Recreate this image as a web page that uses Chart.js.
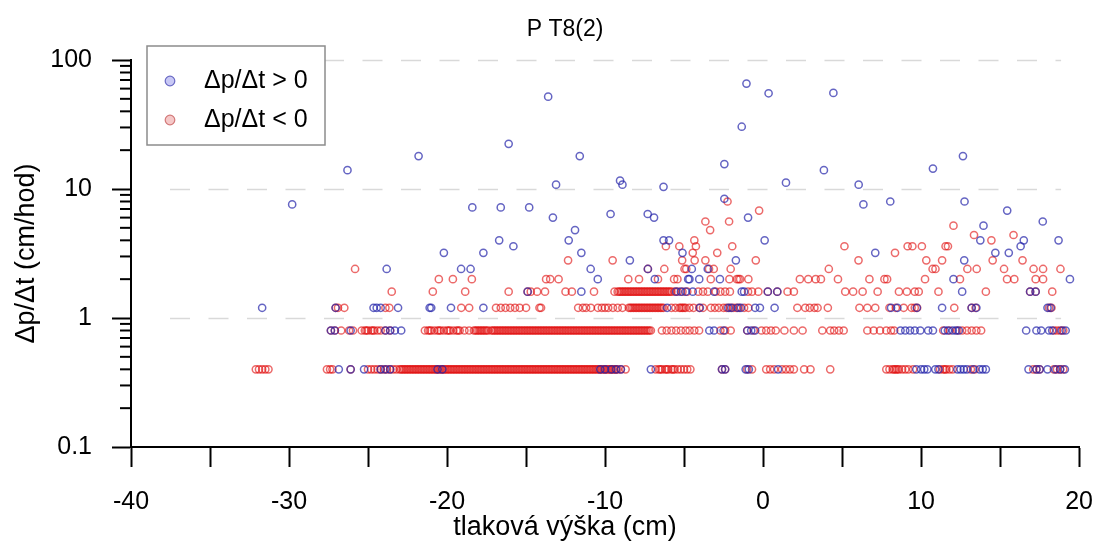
<!DOCTYPE html>
<html>
<head>
<meta charset="utf-8">
<script src="https://cdn.jsdelivr.net/npm/chart.js@4.4.0/dist/chart.umd.min.js"></script>
<style>
  html, body { margin: 0; background: #fff; }
  #c { display: block; }
</style>
</head>
<body>
<canvas id="c" width="1113" height="545"></canvas>
<script>
// ——— data: rate levels (cm/hod) and pressure heads (cm) ———
const rowRates = [0.4, 0.8, 1.2, 1.6, 2.0, 2.4, 2.8];
const rateTicks = [0.1, 1, 10, 100];

// Δp/Δt > 0, one array of heads per rate level
const up04 = [-26.85, -26.1, -25.25, -24.2, -23.9, -23.6, -20.6, -20.3,
  -10.3, -10.0, -9.6, -9.3, -9.0, -7.1, -2.6, -2.4, -1.1, -0.9, 0.95,
  9.7, 10.0, 10.2, 10.4, 10.9, 11.1, 12.3, 12.5, 12.7, 12.9, 13.3, 13.7, 13.9, 14.1,
  16.8, 17.3, 17.5, 18.0, 18.5, 18.8, 19.1];
const up08 = [-27.35, -27.1, -26.1, -23.9, -23.6, -23.3, -22.9, -3.4, -3.1, -2.5,
  -1.0, -0.75, -0.5, 8.7, 9.0, 9.3, 9.6, 9.95, 10.45, 10.75, 11.5, 11.7, 12.0, 12.2, 12.4,
  16.65, 17.3, 17.6, 18.1, 18.3, 18.9, 19.15];
const up12 = [-31.7, -27.05, -24.65, -24.45, -24.2, -23.1, -21.1, -21.0, -19.75, -17.7,
  -6.07, -4.0, -2.2, -2.0, -1.6, -1.4, -0.5, -0.2, 0.73, 8.1, 8.5, 9.73, 11.33,
  13.2, 13.5, 18.0, 18.2];
const up16 = [-14.9, -11.5, -5.5, -5.2, -4.9, -4.45, -3.1, -1.35, -1.2, 0.3, 0.9,
  12.6, 16.9, 17.25];
const up20 = [-10.46, -6.85, -4.74, -4.66, -4.04, -2.73, 12.05, 19.42];
const up24 = [-23.82, -19.11, -18.51, -10.91, -7.29, -4.51, -3.5];
const up28 = [-8.43, -1.72, 12.73];
const upPeaks = [
  [-29.8, 7.6], [-26.3, 14], [-21.8, 18], [-20.2, 3.2], [-18.4, 7.2], [-17.7, 3.2],
  [-16.7, 4.0], [-16.6, 7.2], [-16.1, 22.4], [-15.8, 3.6], [-14.8, 7.2], [-13.6, 52],
  [-13.3, 6.0], [-13.1, 10.8], [-12.3, 4.0], [-11.9, 4.8], [-11.6, 18], [-11.5, 3.2],
  [-9.65, 6.4], [-9.05, 11.6], [-8.9, 10.8], [-7.3, 6.4], [-6.9, 6.0], [-6.3, 10.4],
  [-6.3, 4.0], [-5.95, 4.0], [-5.1, 3.2], [-2.45, 15.6], [-2.45, 8.4], [-1.35, 30.4],
  [-1.05, 65.6], [-0.95, 6.0], [0.1, 4.0], [0.35, 55.2], [1.45, 11.2], [3.85, 14],
  [4.45, 55.6], [6.05, 10.8], [6.35, 7.6], [7.1, 3.2], [8.05, 8.0], [10.75, 14.4],
  [12.65, 18], [12.75, 8.0], [13.75, 4.0], [13.95, 5.2], [14.7, 3.2], [15.45, 6.8],
  [15.55, 3.2], [16.3, 3.6], [16.5, 4.0], [17.7, 5.6], [18.7, 4.0]
];

// Δp/Δt < 0
const down04 = [-32.1, -31.9, -31.7, -31.5, -31.3, -27.6, -27.4, -27.25, -26.1,
  -25.0, -24.8, -24.6, -24.4, -24.2, -24.0, -23.8, -23.6, -23.4, -23.2,
  -23.0, -22.9, -22.8, -22.7, -22.6, -22.5, -22.4, -22.3, -22.2, -22.1,
  -22.0, -21.9, -21.8, -21.7, -21.6, -21.5, -21.4, -21.3, -21.2, -21.1,
  -21.0, -20.9, -20.8, -20.7, -20.6, -20.5, -20.4, -20.3, -20.2, -20.1,
  -20.0, -19.9, -19.8, -19.7, -19.6, -19.5, -19.4, -19.3, -19.2, -19.1,
  -19.0, -18.9, -18.8, -18.7, -18.6, -18.5, -18.4, -18.3, -18.2, -18.1,
  -18.0, -17.9, -17.8, -17.7, -17.6, -17.5, -17.4, -17.3, -17.2, -17.1,
  -17.0, -16.9, -16.8, -16.7, -16.6, -16.5, -16.4, -16.3, -16.2, -16.1,
  -16.0, -15.9, -15.8, -15.7, -15.6, -15.5, -15.4, -15.3, -15.2, -15.1,
  -15.0, -14.9, -14.8, -14.7, -14.6, -14.5, -14.4, -14.3, -14.2, -14.1,
  -14.0, -13.9, -13.8, -13.7, -13.6, -13.5, -13.4, -13.3, -13.2, -13.1,
  -13.0, -12.9, -12.8, -12.7, -12.6, -12.5, -12.4, -12.3, -12.2, -12.1,
  -12.0, -11.9, -11.8, -11.7, -11.6, -11.5, -11.4, -11.3, -11.2, -11.1,
  -11.0, -10.9, -10.8, -10.7, -10.6, -10.5, -10.4, -10.3, -10.2, -10.1,
  -10.0, -9.9, -9.8, -9.7, -9.6, -9.5, -9.4, -9.3, -9.2, -9.0, -8.7,
  -6.8, -6.6, -6.5, -6.4, -6.2, -6.1, -6.0, -5.8, -5.7, -5.6, -5.4, -5.2, -5.0, -4.8, -4.6,
  -2.6, -2.4, -1.0, -0.7, 0.2, 0.45, 0.7, 1.2, 1.45, 1.7, 1.95, 2.6, 3.0, 4.25,
  7.8, 8.0, 8.2, 8.3, 8.4, 8.5, 8.6, 8.8, 9.0, 9.2, 9.5, 11.2, 11.4, 11.5, 11.6, 11.8, 12.0,
  13.15, 13.4, 17.1, 17.3, 17.5, 18.4, 18.6, 18.8, 19.0];
const down08 = [-27.35, -27.1, -26.7, -26.2, -25.95, -25.4, -25.2, -25.1, -25.0, -24.8,
  -24.7, -24.6, -24.4, -24.2, -23.9, -23.6, -21.4, -21.2, -21.1, -21.0, -20.8, -20.6,
  -20.5, -20.4, -20.2, -20.0, -19.9, -19.8, -19.6, -19.4, -19.3, -19.2, -18.9, -18.6,
  -18.3, -18.2, -18.1, -18.0, -17.9, -17.8, -17.7, -17.6, -17.5, -17.4,
  -17.2, -17.1, -17.0, -16.9, -16.8, -16.7, -16.6, -16.5, -16.4, -16.3,
  -16.2, -16.1, -16.0, -15.9, -15.8, -15.7, -15.6, -15.5, -15.4, -15.3,
  -15.2, -15.1, -15.0, -14.9, -14.8, -14.7, -14.6, -14.5, -14.4, -14.3,
  -14.2, -14.1, -14.0, -13.9, -13.8, -13.7, -13.6, -13.5, -13.4, -13.3,
  -13.2, -13.1, -13.0, -12.9, -12.8, -12.7, -12.6, -12.5, -12.4, -12.3,
  -12.2, -12.1, -12.0, -11.9, -11.8, -11.7, -11.6, -11.5, -11.4, -11.3,
  -11.2, -11.1, -11.0, -10.9, -10.8, -10.7, -10.6, -10.5, -10.4, -10.3,
  -10.2, -10.1, -10.0, -9.9, -9.8, -9.7, -9.6, -9.5, -9.4, -9.3,
  -9.2, -9.1, -9.0, -8.9, -8.8, -8.7, -8.6, -8.5, -8.4, -8.3,
  -8.2, -8.1, -8.0, -7.9, -7.8, -7.7, -7.6, -7.5, -7.4, -7.3, -7.2, -7.1,
  -6.4, -6.1, -5.8, -5.5, -5.2, -4.9, -4.65, -4.35, -4.05, -2.7, -2.4, -2.05,
  -1.0, -0.6, -0.1, 0.2, 0.5, 0.8, 1.35, 1.95, 2.5, 3.75, 4.25, 4.5, 4.8, 5.1,
  6.6, 7.0, 7.4, 7.8, 8.1, 8.3, 11.4, 11.8, 12.3, 12.6, 12.9, 13.2, 13.5, 13.8,
  18.4, 18.6, 18.8, 19.0];
const down12 = [-27.05, -26.9, -26.5, -23.9, -23.65, -19.1, -18.6, -16.9, -16.6,
  -16.3, -16.0, -15.7, -15.4, -15.0, -14.15, -14.05, -11.7, -11.4, -11.2, -10.9,
  -10.45, -10.2, -10.0, -9.8, -9.5, -9.2, -8.9, -8.5, -8.4, -8.3, -8.2, -8.1, -8.0,
  -7.9, -7.8, -7.7, -7.6, -7.5, -7.4, -7.3, -7.2, -7.1, -7.0, -6.9, -6.8, -6.7, -6.6,
  -6.5, -6.4, -6.3, -5.8, -5.55, -5.3, -5.2, -5.1, -5.0, -4.9, -4.66, -4.4,
  -4.04, -3.8, -3.3, -3.05, -2.8, -2.5, -2.3, -2.1, -1.9, -1.7, -1.5, -1.2, -0.93,
  2.17, 2.67, 2.95, 3.25, 3.45, 4.1, 6.1, 6.6, 7.1, 8.0, 8.4, 8.9, 9.4, 9.6, 9.75,
  12.1, 13.2, 13.45, 18.1, 18.25];
const down16 = [-23.5, -20.9, -18.85, -16.1, -14.9, -14.7, -14.3, -13.8, -12.5, -12.1,
  -10.7, -9.4, -9.2, -9.1, -9.0, -8.9, -8.8, -8.7, -8.6, -8.5, -8.4, -8.3, -8.2, -8.1,
  -8.0, -7.9, -7.8, -7.7, -7.6, -7.5, -7.4, -7.3, -7.2, -7.1, -7.0, -6.9, -6.8, -6.7,
  -6.6, -6.5, -6.4, -6.3, -6.2, -6.1, -6.0, -5.9, -5.8, -5.6, -5.4, -5.1, -4.8,
  -4.1, -3.8, -3.5, -3.0, -2.7, -2.4, -2.1, -0.95, -0.7, -0.3, 0.3, 0.9, 1.55, 1.95,
  5.2, 5.7, 6.3, 7.25, 8.6, 9.1, 9.6, 9.85, 11.1, 14.1, 16.9, 17.25, 18.3];
const down20 = [-20.52, -19.63, -18.43, -13.73, -13.47, -12.94, -8.53, -7.85, -6.65,
  -5.63, -5.42, -3.31, -2.13, -1.66, -1.55, -1.45, -0.93, 2.33, 2.86, 3.33, 3.66,
  4.74, 6.73, 7.68, 7.85, 10.25, 12.46, 15.44, 15.9, 17.25, 17.72];
const down24 = [-25.82, -7.29, -6.25, -4.97, -4.86, -3.42, -3.12, -2.05, 4.16, 10.73,
  10.91, 12.93, 13.52, 15.25, 17.12, 17.72, 18.82];
const down28 = [-12.34, -9.52, -5.12, -4.33, -3.65, -0.46, 6.04, 10.33, 11.33, 14.53, 16.42];
const downPeaks = [
  [-6.15, 3.6], [-5.3, 3.6], [-4.45, 3.2], [-4.35, 4.0], [-4.25, 3.6], [-3.65, 5.6],
  [-3.35, 4.8], [-2.9, 3.2], [-2.25, 8.0], [-2.15, 5.6], [-1.95, 3.6], [-0.25, 6.8],
  [5.15, 3.6], [8.35, 3.2], [9.15, 3.6], [9.45, 3.6], [10.05, 3.6], [11.55, 3.6],
  [11.7, 3.6], [12.05, 5.2], [13.35, 4.4], [14.45, 4.0], [15.85, 4.4]
];

// ——— helpers ———
const FONT = "'Liberation Sans', Arial, sans-serif";
const BLUE = "rgba(35, 35, 170, 0.7)";
const RED = "rgba(225, 15, 15, 0.62)";

function points(rows, peaks) {
  const out = [];
  rows.forEach((xs, i) => xs.forEach(x => out.push({ x, y: rowRates[i] })));
  peaks.forEach(([x, y]) => out.push({ x, y }));
  return out;
}

// gridlines, minor log ticks, legend box, title and x caption
const frame = {
  id: "frame",
  beforeDatasetsDraw(chart) {
    const { ctx, chartArea: a, scales: { y } } = chart;
    ctx.save();
    ctx.strokeStyle = "#d9d9d9";
    ctx.lineWidth = 1.5;
    ctx.setLineDash([20, 18.5]);
    [1, 10, 100].forEach(v => {
      const py = Math.round(y.getPixelForValue(v)) + 0.5;
      ctx.beginPath();
      ctx.moveTo(a.left + 39, py);
      ctx.lineTo(a.right - 18, py);
      ctx.stroke();
    });
    ctx.restore();
  },
  afterDraw(chart) {
    const { ctx, chartArea: a, scales: { y } } = chart;
    ctx.save();
    // minor ticks on the log axis
    ctx.strokeStyle = "#000";
    ctx.lineWidth = 2;
    [0.1, 1, 10].forEach(d => {
      for (let m = 2; m <= 9; m++) {
        const py = y.getPixelForValue(m * d);
        ctx.beginPath();
        ctx.moveTo(a.left - 11, py);
        ctx.lineTo(a.left, py);
        ctx.stroke();
      }
    });

    // legend
    const lx = a.left + 16, ly = a.top - 14;
    ctx.fillStyle = "#fff";
    ctx.fillRect(lx, ly, 178, 99);
    ctx.strokeStyle = "#8c8c8c";
    ctx.lineWidth = 1.5;
    ctx.strokeRect(lx, ly, 178, 99);
    const items = [
      { text: "Δp/Δt > 0", fill: "rgba(200, 200, 245, 1)", stroke: "#6a6ac4", dy: 35 },
      { text: "Δp/Δt < 0", fill: "rgba(245, 200, 200, 1)", stroke: "#d27878", dy: 74 }
    ];
    ctx.font = "25px " + FONT;
    ctx.textBaseline = "middle";
    ctx.textAlign = "left";
    items.forEach(it => {
      ctx.beginPath();
      ctx.arc(lx + 23, ly + it.dy, 4.8, 0, Math.PI * 2);
      ctx.fillStyle = it.fill;
      ctx.fill();
      ctx.lineWidth = 1.2;
      ctx.strokeStyle = it.stroke;
      ctx.stroke();
      ctx.fillStyle = "#000";
      ctx.fillText(it.text, lx + 57, ly + it.dy);
    });

    // title and x caption share the page centre line
    ctx.textAlign = "center";
    ctx.font = "23px " + FONT;
    ctx.fillText("P T8(2)", 565, 30);
    ctx.font = "27px " + FONT;
    ctx.fillText("tlaková výška (cm)", 565, 528);
    ctx.restore();
  }
};

new Chart(document.getElementById("c"), {
  type: "scatter",
  data: {
    datasets: [
      {
        label: "Δp/Δt > 0",
        data: points([up04, up08, up12, up16, up20, up24, up28], upPeaks),
        borderColor: BLUE,
        backgroundColor: "rgba(0,0,0,0)",
        pointRadius: 3.6,
        pointBorderWidth: 1.5
      },
      {
        label: "Δp/Δt < 0",
        data: points([down04, down08, down12, down16, down20, down24, down28], downPeaks),
        borderColor: RED,
        backgroundColor: "rgba(0,0,0,0)",
        pointRadius: 3.6,
        pointBorderWidth: 1.5
      }
    ]
  },
  options: {
    responsive: false,
    animation: false,
    devicePixelRatio: 1,
    layout: { padding: { top: 60, right: 18, left: 0, bottom: 0 } },
    plugins: { legend: { display: false }, tooltip: { enabled: false } },
    scales: {
      x: {
        type: "linear",
        min: -40,
        max: 20,
        afterFit: s => { s.height = 98; },
        ticks: {
          stepSize: 5,
          autoSkip: false,
          maxRotation: 0,
          padding: 20,
          color: "#000",
          font: { size: 25, family: FONT },
          callback: v => (v % 10 === 0 ? v : "")
        },
        grid: { drawOnChartArea: false, tickLength: 20, tickWidth: 2, tickColor: "#000" },
        border: { color: "#000", width: 2 },
        title: { display: false }
      },
      y: {
        type: "logarithmic",
        min: 0.1,
        max: 100,
        afterFit: s => { s.width = 131; },
        afterBuildTicks: s => { s.ticks = rateTicks.map(v => ({ value: v })); },
        ticks: {
          padding: 20,
          color: "#000",
          font: { size: 25, family: FONT },
          callback: v => String(v)
        },
        grid: { drawOnChartArea: false, tickLength: 19, tickWidth: 2, tickColor: "#000" },
        border: { color: "#000", width: 2 },
        title: {
          display: true,
          text: "Δp/Δt (cm/hod)",
          color: "#000",
          font: { size: 27, family: FONT },
          padding: { top: 10, bottom: 0 }
        }
      }
    }
  },
  plugins: [frame]
});
</script>
</body>
</html>
